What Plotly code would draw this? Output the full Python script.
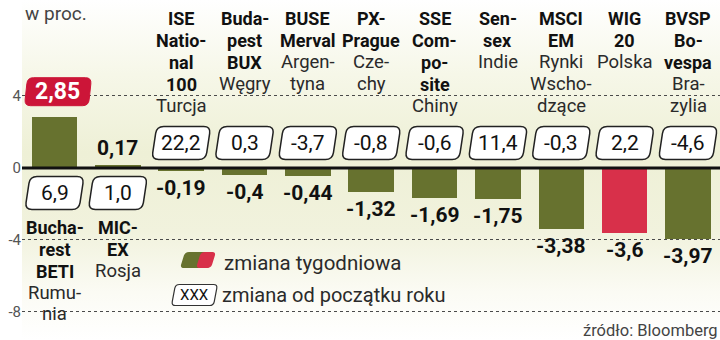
import base64
import plotly.graph_objects as go

# ---------------- data ----------------
index_names = [
    ["Bucha-", "rest", "BETI"],
    ["MIC-", "EX"],
    ["ISE", "Natio-", "nal", "100"],
    ["Buda-", "pest", "BUX"],
    ["BUSE", "Merval"],
    ["PX-", "Prague"],
    ["SSE", "Com-", "po-", "site"],
    ["Sen-", "sex"],
    ["MSCI", "EM"],
    ["WIG", "20"],
    ["BVSP", "Bo-", "vespa"],
]
countries = [
    ["Rumu-", "nia"],
    ["Rosja"],
    ["Turcja"],
    ["Węgry"],
    ["Argen-", "tyna"],
    ["Cze-", "chy"],
    ["Chiny"],
    ["Indie"],
    ["Rynki", "Wscho-", "dzące"],
    ["Polska"],
    ["Bra-", "zylia"],
]
weekly_change = [2.85, 0.17, -0.19, -0.4, -0.44, -1.32, -1.69, -1.75, -3.38, -3.6, -3.97]
ytd_change = [6.9, 1.0, 22.2, 0.3, -3.7, -0.8, -0.6, 11.4, -0.3, 2.2, -4.6]
y_tick_values = [4, 0, -4, -8]
y_tick_labels = ["4", "0", "-4", "-8"]
home_country = "Polska"

# ---------------- style ----------------
FONT = "Roboto, Lato, DejaVu Sans Condensed, sans-serif"
OLIVE = "#67722f"
RED = "#d8304a"
BOX_RED = "#cc1538"
W, H = 720, 340
ML = 22
PW = W - ML


def px_x(px):
    return (px - ML) / PW


def px_y(py):
    return 1 - py / H


def fmt(v, dec=None):
    s = f"{v:.{dec}f}" if dec is not None else str(v)
    return s.replace(".", ",")


def para_path(cx, cy, w, h, s, r):
    """Rounded parallelogram (top shifted right by s), pixel coords, y up."""
    pts = [
        (cx - w / 2 - s / 2, cy - h / 2),
        (cx + w / 2 - s / 2, cy - h / 2),
        (cx + w / 2 + s / 2, cy + h / 2),
        (cx - w / 2 + s / 2, cy + h / 2),
    ]
    n = len(pts)
    segs = []
    for k in range(n):
        p0 = pts[k - 1]
        p1 = pts[k]
        p2 = pts[(k + 1) % n]
        d1 = ((p0[0] - p1[0]), (p0[1] - p1[1]))
        l1 = (d1[0] ** 2 + d1[1] ** 2) ** 0.5
        d2 = ((p2[0] - p1[0]), (p2[1] - p1[1]))
        l2 = (d2[0] ** 2 + d2[1] ** 2) ** 0.5
        a = (p1[0] + d1[0] / l1 * r, p1[1] + d1[1] / l1 * r)
        b = (p1[0] + d2[0] / l2 * r, p1[1] + d2[1] / l2 * r)
        segs.append((a, p1, b))
    path = f"M {segs[0][0][0]:.2f},{segs[0][0][1]:.2f} "
    for k, (a, c, b) in enumerate(segs):
        if k > 0:
            path += f"L {a[0]:.2f},{a[1]:.2f} "
        path += f"Q {c[0]:.2f},{c[1]:.2f} {b[0]:.2f},{b[1]:.2f} "
    path += "Z"
    return path


n = len(weekly_change)
xs = list(range(n))
bar_colors = [RED if countries[i][0] == home_country else OLIVE for i in xs]

fig = go.Figure()
fig.add_trace(go.Bar(
    x=xs, y=weekly_change, width=0.72,
    marker=dict(color=bar_colors, line=dict(width=0)),
    hoverinfo="skip",
))

shapes = []
annotations = []

# zero line
shapes.append(dict(type="line", xref="paper", yref="y", x0=0, x1=1, y0=0, y1=0,
                   line=dict(color="#111111", width=3), layer="above"))

top_idx = max(xs, key=lambda i: weekly_change[i])

for i in xs:
    v = weekly_change[i]
    # weekly value labels
    if i == top_idx:
        shapes.append(dict(type="path", xref="x", yref="y", xsizemode="pixel", ysizemode="pixel",
                           xanchor=i, yanchor=v,
                           path=para_path(3.5, 25, 64, 28, 3, 6),
                           fillcolor=BOX_RED, line=dict(color=BOX_RED, width=1), layer="above"))
        annotations.append(dict(x=i, y=v, xref="x", yref="y", showarrow=False,
                                text=f"<b>{fmt(v)}</b>", xshift=3, yshift=25,
                                font=dict(family=FONT, size=23, color="white")))
    else:
        annotations.append(dict(x=i, y=v, xref="x", yref="y", showarrow=False,
                                text=f"<b>{fmt(v)}</b>",
                                yshift=17 if v > 0 else -17,
                                font=dict(family=FONT, size=21, color="#111111")))
    # ytd boxes (opposite side of the bar)
    off = -25 if v > 0 else 25
    shapes.append(dict(type="path", xref="x", yref="y", xsizemode="pixel", ysizemode="pixel",
                       xanchor=i, yanchor=0,
                       path=para_path(0, off, 54, 33, 5, 7),
                       fillcolor="white", line=dict(color="#222222", width=1.5), layer="above"))
    annotations.append(dict(x=i, y=0, xref="x", yref="y", showarrow=False,
                            text=fmt(ytd_change[i], 1), yshift=off,
                            font=dict(family=FONT, size=21, color="#111111")))
    # header text
    lines = [(t, True) for t in index_names[i]] + [(t, False) for t in countries[i]]
    if v > 0:
        y0, step = 228, 21.6
    else:
        y0, step = 18, 22
    for k, (t, bold) in enumerate(lines):
        annotations.append(dict(x=i, y=px_y(y0 + step * k), xref="x", yref="paper",
                                showarrow=False, yanchor="middle",
                                text=f"<b>{t}</b>" if bold else t,
                                font=dict(family=FONT, size=18 if bold else 18.5,
                                          color="#111111" if bold else "#2a2a2a")))

# "w proc."
annotations.append(dict(x=px_x(23), y=px_y(14), xref="paper", yref="paper", showarrow=False,
                        xanchor="left", yanchor="middle", text="w proc.",
                        font=dict(family=FONT, size=19, color="#444444")))
# source
annotations.append(dict(x=px_x(720), y=px_y(330), xref="paper", yref="paper", showarrow=False,
                        xanchor="right", yanchor="middle", text="źródło: Bloomberg",
                        font=dict(family=FONT, size=16.5, color="#444444")))

# legend
shapes.append(dict(type="path", xref="paper", yref="paper", xsizemode="pixel", ysizemode="pixel",
                   xanchor=0, yanchor=1, path=para_path(197.5 - ML, -260, 30, 16, 5, 4),
                   fillcolor=OLIVE, line=dict(width=0), layer="above"))
shapes.append(dict(type="path", xref="paper", yref="paper", xsizemode="pixel", ysizemode="pixel",
                   xanchor=0, yanchor=1, path=para_path(206 - ML, -260, 15, 16, 5, 4),
                   fillcolor=RED, line=dict(width=0), layer="above"))
annotations.append(dict(x=px_x(222), y=px_y(263), xref="paper", yref="paper", showarrow=False,
                        xanchor="left", yanchor="middle", text="zmiana tygodniowa",
                        font=dict(family=FONT, size=20.5, color="#2a2a2a")))
shapes.append(dict(type="path", xref="paper", yref="paper", xsizemode="pixel", ysizemode="pixel",
                   xanchor=0, yanchor=1, path=para_path(194.5 - ML, -295, 42, 21, 4, 4),
                   fillcolor="white", line=dict(color="#333333", width=1.2), layer="above"))
annotations.append(dict(x=px_x(194.5), y=px_y(295), xref="paper", yref="paper", showarrow=False,
                        xanchor="center", yanchor="middle", text="XXX",
                        font=dict(family=FONT, size=15, color="#111111")))
annotations.append(dict(x=px_x(220), y=px_y(295), xref="paper", yref="paper", showarrow=False,
                        xanchor="left", yanchor="middle", text="zmiana od początku roku",
                        font=dict(family=FONT, size=20, color="#2a2a2a")))

# background gradient (plot area only)
svg = (
    '<svg xmlns="http://www.w3.org/2000/svg" width="698" height="340" preserveAspectRatio="none">'
    '<defs><linearGradient id="g" x1="0" y1="0" x2="0" y2="1">'
    '<stop offset="0" stop-color="#ffffff"/>'
    '<stop offset="0.22" stop-color="#f6f7e8"/>'
    '<stop offset="0.45" stop-color="#eef0d6"/>'
    '<stop offset="0.68" stop-color="#f1f2dd"/>'
    '<stop offset="0.86" stop-color="#fbfbf4"/>'
    '<stop offset="1" stop-color="#ffffff"/>'
    '</linearGradient></defs>'
    '<rect width="698" height="340" fill="url(#g)"/></svg>'
)
src = "data:image/svg+xml;base64," + base64.b64encode(svg.encode()).decode()

fig.update_layout(
    width=W, height=H,
    margin=dict(l=ML, r=0, t=0, b=0, pad=0),
    paper_bgcolor="white", plot_bgcolor="rgba(0,0,0,0)",
    showlegend=False, bargap=0,
    shapes=shapes, annotations=annotations,
    images=[dict(source=src, xref="paper", yref="paper", x=0, y=1, sizex=1, sizey=1,
                 xanchor="left", yanchor="top", sizing="stretch", layer="below")],
    xaxis=dict(range=[-0.513, 10.505], showticklabels=False, showgrid=False,
               zeroline=False, showline=False, ticks="", fixedrange=True),
    yaxis=dict(range=[-9.556, 9.333], tickvals=y_tick_values, ticktext=y_tick_labels,
               showgrid=True, gridcolor="#4a4a4a", gridwidth=1, griddash="3px,3px",
               zeroline=False, showline=False, ticks="",
               tickfont=dict(family=FONT, size=15, color="#555555"), fixedrange=True),
)

fig.write_html("out.html", config={"displayModeBar": False})
